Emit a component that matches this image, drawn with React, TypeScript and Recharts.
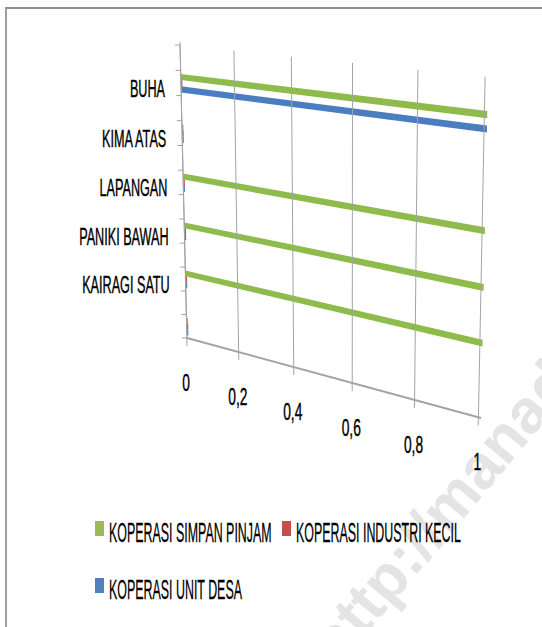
import React from 'react'
import { BarChart, Bar, XAxis, YAxis } from 'recharts'

// data (3-D clustered bar, values 0/1)
const categories = ['BUHA', 'KIMA ATAS', 'LAPANGAN', 'PANIKI BAWAH', 'KAIRAGI SATU', '']
const simpanPinjam = [1, 0, 1, 1, 1, 0]
const industriKecil = [0, 0, 0, 0, 0, 0]
const unitDesa = [1, 0, 0, 0, 0, 0]
const valueTicks = [0, 0.2, 0.4, 0.6, 0.8, 1]

const series = [
    { key: 'ksp', name: 'KOPERASI SIMPAN PINJAM', color: '#9BBB59', bar: '#8FBA4C' },
    { key: 'kik', name: 'KOPERASI INDUSTRI KECIL', color: '#C0504D', bar: '#C0504D' },
    { key: 'kud', name: 'KOPERASI UNIT DESA', color: '#4F81BD', bar: '#4A7EC0' },
]

const data = categories.map((name, i) => ({
    name,
    ksp: simpanPinjam[i],
    kik: industriKecil[i],
    kud: unitDesa[i],
}))

const W = 542
const H = 627
const Y_AXIS_W = 40
const X_AXIS_H = 40
// flat plot area of the BarChart (margins are 0)
const PLOT = { left: Y_AXIS_W, top: 0, width: W - Y_AXIS_W, height: H - X_AXIS_H }

// back wall of the 3-D plot, corners: top-left, top-right, bottom-right, bottom-left
const QUAD = [[180, 45], [488, 77], [481, 418], [187, 338]]

function makeProjection(q: number[][]) {
    const [[x0, y0], [x1, y1], [x2, y2], [x3, y3]] = q
    const dx1 = x1 - x2, dx2 = x3 - x2, dx3 = x0 - x1 + x2 - x3
    const dy1 = y1 - y2, dy2 = y3 - y2, dy3 = y0 - y1 + y2 - y3
    const den = dx1 * dy2 - dx2 * dy1
    const g = (dx3 * dy2 - dx2 * dy3) / den
    const h = (dx1 * dy3 - dx3 * dy1) / den
    const a = x1 - x0 + g * x1, b = x3 - x0 + h * x3, c = x0
    const d = y1 - y0 + g * y1, e = y3 - y0 + h * y3, f = y0
    return (u: number, v: number): [number, number] => {
        const w = g * u + h * v + 1
        return [(a * u + b * v + c) / w, (d * u + e * v + f) / w]
    }
}

const project = makeProjection(QUAD)
const BAND = 1 / categories.length
const BAR_SHIFT = 0.25 * BAND   // bars sit in front of the back wall
const LABEL_SHIFT = 0.37 * BAND
const FONT = '"Liberation Sans", Arial, sans-serif'
const GRID = '#a3a3a3'

const toU = (x: number) => (x - PLOT.left) / PLOT.width
const toV = (y: number) => (y - PLOT.top) / PLOT.height
const pts = (list: [number, number][]) => list.map(p => `${p[0].toFixed(1)},${p[1].toFixed(1)}`).join(' ')

const Bar3D = (props: any) => {
    const { x, y, width, height, fill } = props
    if (x == null || y == null) return null
    const u0 = toU(x)
    let u1 = toU(x + (width || 0))
    if (u1 - u0 < 0.006) u1 = u0 + 0.006
    const v0 = toV(y) + BAR_SHIFT
    const v1 = toV(y + height) + BAR_SHIFT
    return (
        <polygon
            points={pts([project(u0, v0), project(u1, v0), project(u1, v1), project(u0, v1)])}
            fill={fill}
        />
    )
}

const ValueTick = (props: any) => {
    const { x, payload, index } = props
    const u = toU(x)
    const top = project(u, 0)
    const bot = project(u, 1)
    const label = String(payload.value).replace('.', ',')
    return (
        <g>
            {index === 0 && (
                <line
                    x1={project(0, 1)[0]} y1={project(0, 1)[1]}
                    x2={project(1, 1)[0]} y2={project(1, 1)[1]}
                    stroke={GRID} strokeWidth={2}
                />
            )}
            <line x1={top[0]} y1={top[1]} x2={bot[0]} y2={bot[1] + 8} stroke={GRID} strokeWidth={1} />
            <text
                x={0} y={0}
                textAnchor="middle"
                dominantBaseline="central"
                transform={`translate(${bot[0] - 1},${bot[1] + 45}) scale(0.6,1)`}
                fontSize={23}
                fontFamily={FONT}
                fill="#000"
                stroke="#000"
                strokeWidth={0.4}
            >
                {label}
            </text>
        </g>
    )
}

const CategoryTick = (props: any) => {
    const { y, payload, index } = props
    const vc = toV(y)
    const marks = [vc - BAND / 2, vc]
    if (index === categories.length - 1) marks.push(vc + BAND / 2)
    const lp = project(0, vc + LABEL_SHIFT)
    return (
        <g>
            {index === 0 && (
                <line
                    x1={project(0, 0)[0]} y1={project(0, 0)[1] - 3}
                    x2={project(0, 1)[0]} y2={project(0, 1)[1]}
                    stroke={GRID} strokeWidth={1}
                />
            )}
            {marks.map((m, i) => {
                const p = project(0, m)
                return <line key={i} x1={p[0] - 5} y1={p[1]} x2={p[0]} y2={p[1]} stroke={GRID} strokeWidth={1} />
            })}
            <text
                x={0} y={0}
                textAnchor="end"
                dominantBaseline="central"
                transform={`translate(${lp[0] - 16},${lp[1]}) scale(0.55,1)`}
                fontSize={23}
                fontFamily={FONT}
                fill="#000"
                stroke="#000"
                strokeWidth={0.4}
            >
                {payload.value}
            </text>
        </g>
    )
}

const LEGEND_POS = [[95, 521], [282, 521], [95, 578]]

export default function App() {
    return (
        <div style={{ position: 'absolute', left: 0, top: 0, width: W, height: H, overflow: 'hidden', background: '#fff' }}>
            <svg width={W} height={H} style={{ position: 'absolute', left: 0, top: 0 }}>
                <text
                    x={0} y={0}
                    transform="translate(338,668) rotate(-50)"
                    fontSize={62}
                    fontWeight="bold"
                    fontFamily={FONT}
                    fill="#e4e4e4"
                >
                    http://manado
                </text>
            </svg>
            <div style={{
                position: 'absolute', left: 5, top: 7, width: W, height: H,
                borderTop: '2px solid #8e8e8e', borderLeft: '2px solid #a0a0a0',
            }} />
            <div style={{ position: 'absolute', left: 0, top: 0 }}>
                <BarChart
                    width={W}
                    height={H}
                    data={data}
                    layout="vertical"
                    margin={{ top: 0, right: 0, bottom: 0, left: 0 }}
                    barCategoryGap="32%"
                    barGap={0}
                >
                    <XAxis
                        type="number"
                        domain={[0, 1]}
                        ticks={valueTicks}
                        height={X_AXIS_H}
                        axisLine={false}
                        tickLine={false}
                        tick={ValueTick}
                    />
                    <YAxis
                        type="category"
                        dataKey="name"
                        width={Y_AXIS_W}
                        interval={0}
                        axisLine={false}
                        tickLine={false}
                        tick={CategoryTick}
                    />
                    {series.map(s => (
                        <Bar
                            key={s.key}
                            dataKey={s.key}
                            name={s.name}
                            fill={s.bar}
                            shape={Bar3D}
                            isAnimationActive={false}
                        />
                    ))}
                </BarChart>
            </div>
            {series.map((s, i) => (
                <div key={s.key} style={{ position: 'absolute', left: LEGEND_POS[i][0], top: LEGEND_POS[i][1] }}>
                    <div style={{ position: 'absolute', left: 0, top: 0, width: 9, height: 15, background: s.color }} />
                    <div style={{
                        position: 'absolute', left: 14, top: -3,
                        fontFamily: FONT, fontSize: 27, lineHeight: '30px',
                        whiteSpace: 'nowrap', color: '#000',
                        WebkitTextStroke: '0.3px #000',
                        transform: 'scaleX(0.46)', transformOrigin: '0 50%',
                    }}>
                        {s.name}
                    </div>
                </div>
            ))}
        </div>
    )
}
